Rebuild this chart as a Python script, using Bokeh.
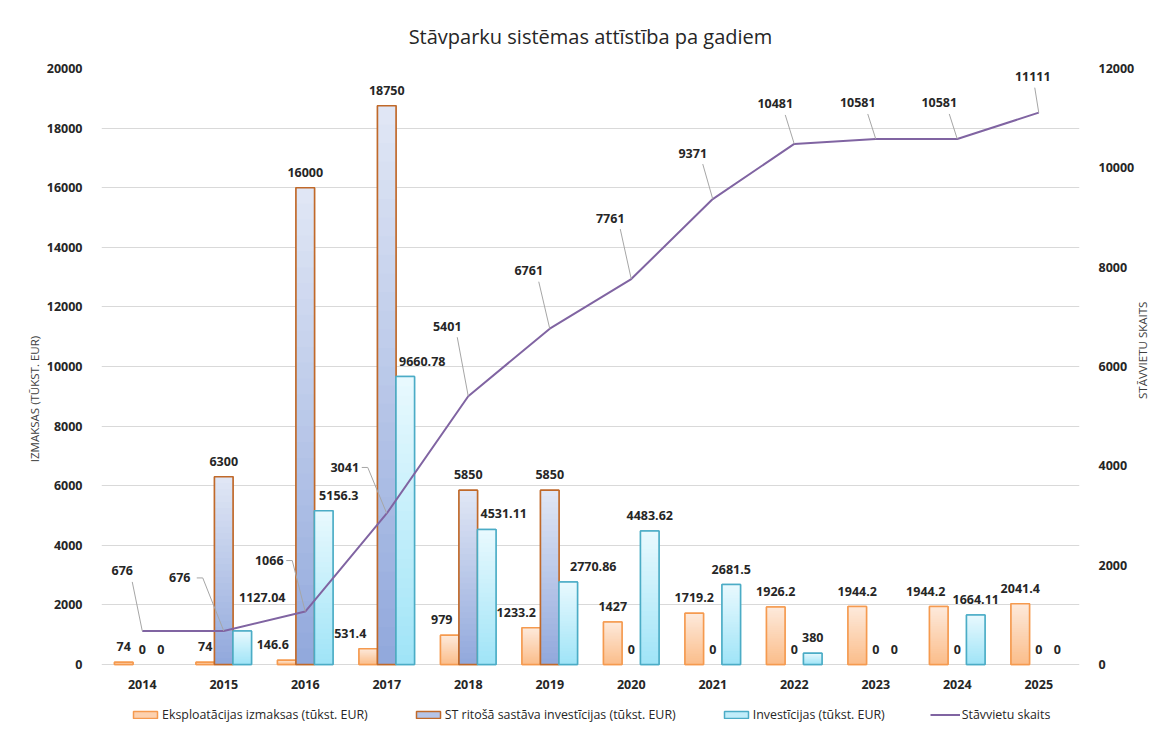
import math
from bokeh.plotting import figure
from bokeh.models import (Range1d, LinearAxis, FixedTicker, ColumnDataSource,
                          Legend, LegendItem)
from bokeh.embed import file_html
from bokeh.resources import INLINE
from bokeh.core.properties import value

# ---------------- data ----------------
years = [2014, 2015, 2016, 2017, 2018, 2019, 2020, 2021, 2022, 2023, 2024, 2025]
ekspl = [74, 74, 146.6, 531.4, 979, 1233.2, 1427, 1719.2, 1926.2, 1944.2, 1944.2, 2041.4]
st_inv = [0, 6300, 16000, 18750, 5850, 5850, 0, 0, 0, 0, 0, 0]
invest = [0, 1127.04, 5156.3, 9660.78, 4531.11, 2770.86, 4483.62, 2681.5, 380, 0, 1664.11, 0]
stavvietas = [676, 676, 1066, 3041, 5401, 6761, 7761, 9371, 10481, 10581, 10581, 11111]

title_text = "Stāvparku sistēmas attīstība pa gadiem"
left_axis_label = "IZMAKSAS (TŪKST. EUR)"
right_axis_label = "STĀVVIETU SKAITS"
series_names = ["Eksploatācijas izmaksas (tūkst. EUR)",
                "ST ritošā sastāva investīcijas (tūkst. EUR)",
                "Investīcijas (tūkst. EUR)",
                "Stāvvietu skaits"]
left_ticks = [0, 2000, 4000, 6000, 8000, 10000, 12000, 14000, 16000, 18000, 20000]
right_ticks = [0, 2000, 4000, 6000, 8000, 10000, 12000]

# ---------------- style / layout ----------------
FONT = "Open Sans"
W, H = 1160, 733
PLOT_L, PLOT_R, PLOT_T, ZERO_Y, FRAME_B = 101, 1079, 68, 664, 729
BL, BR, BT, BB = PLOT_L, W - PLOT_R, PLOT_T, H - FRAME_B
FW = PLOT_R - PLOT_L
LMAX, RMAX = 20000, 12000
PX_X = FW / 12.0                       # px per category
PX_L = (ZERO_Y - PLOT_T) / LMAX        # px per left unit
PX_R = (ZERO_Y - PLOT_T) / RMAX        # px per right unit
LMIN = -(FRAME_B - ZERO_Y) / PX_L
RMIN = -(FRAME_B - ZERO_Y) / PX_R
BAR_W_PX = 18.5
BW = BAR_W_PX / PX_X
LABEL_UP = 15.5             # px from bar top to label centre
YEAR_DOWN = 20              # px below zero line for year labels
TXT = "#262626"
FS = "12.5px"

# label nudges (px)
ekspl_dx = [0, 0, -14, -18, -8, -15, 0, 0, 0, 0, -13, 0]
inv_dx = [0, 20, 15, 17, 17, 25, 0, 0, 0, 0, 0, 0]
inv_dy = [0, -18, 0, 0, 0, 0, 0, 0, 0, 0, 0, 0]
line_dx = [-20, -44, -36, -42, -21, -21, -21, -20, -19, -18, -18, -6]
line_dy = [-60, -53, -51, -46, -70, -58, -61, -46, -40, -36, -36, -36]

series_style = [
    # (top colour, bottom colour, border colour, offset)
    ("#fdeadc", "#fbbd8a", "#f59a4f", -1),
    ("#e1e7f5", "#91a8dc", "#c0692a", 0),
    ("#e9f9fe", "#9fe4f7", "#4bacc6", 1),
]
LINE_COLOR = "#8064a2"

p = figure(width=W, height=H, output_backend="svg", toolbar_location=None,
           x_range=Range1d(-0.5, 11.5), y_range=Range1d(LMIN, LMAX),
           min_border_left=BL, min_border_right=BR,
           min_border_top=BT, min_border_bottom=BB)
p.extra_y_ranges = {"right": Range1d(RMIN, RMAX)}
p.outline_line_color = None
p.background_fill_color = "white"
p.border_fill_color = "white"

# title
p.title.text = title_text
p.title.align = "center"
p.title.text_font = FONT
p.title.text_font_size = "20px"
p.title.text_font_style = "normal"
p.title.text_color = "#262626"
p.title.standoff = 33
p.title.vertical_align = "top"

# axes
def style_axis(ax):
    ax.axis_line_color = None
    ax.major_tick_line_color = None
    ax.minor_tick_line_color = None
    ax.major_label_text_font = FONT
    ax.major_label_text_font_size = FS
    ax.major_label_text_font_style = "bold"
    ax.major_label_text_color = TXT
    ax.axis_label_text_font = FONT
    ax.axis_label_text_font_size = "11.5px"
    ax.axis_label_text_font_style = "normal"
    ax.axis_label_text_color = "#404040"

p.xaxis.visible = False

ya = p.yaxis[0]
ya.ticker = FixedTicker(ticks=left_ticks)
ya.axis_label = left_axis_label
style_axis(ya)
ya.major_label_standoff = 13
ya.axis_label_standoff = 2

ra = LinearAxis(y_range_name="right", ticker=FixedTicker(ticks=right_ticks),
                axis_label=right_axis_label)
style_axis(ra)
ra.major_label_standoff = 13
ra.axis_label_standoff = 5
if "axis_label_orientation" in ra.properties():
    ra.axis_label_orientation = math.pi / 2   # read bottom-to-top
p.add_layout(ra, "right")

p.xgrid.grid_line_color = None
p.ygrid.ticker = FixedTicker(ticks=left_ticks)
p.ygrid.grid_line_color = "#d9d9d9"
p.ygrid.grid_line_width = 1


def mix(c1, c2, t):
    a = [int(c1[i:i + 2], 16) for i in (1, 3, 5)]
    b = [int(c2[i:i + 2], 16) for i in (1, 3, 5)]
    return "#%02x%02x%02x" % tuple(round(a[k] + (b[k] - a[k]) * t) for k in range(3))


N = 30
legend_renderers = []
all_series = [ekspl, st_inv, invest]
for vals, (ctop, cbot, cline, off) in zip(all_series, series_style):
    xs = [i + off * BW for i, v in enumerate(vals) if v > 0]
    vs = [v for v in vals if v > 0]
    base = p.vbar(x=xs, top=vs, bottom=0, width=BW,
                  fill_color=mix(cbot, ctop, 0.45), line_color=cline, line_width=1.5)
    legend_renderers.append(base)
    sx, stop, scol = [], [], []
    for k in range(N - 1, -1, -1):
        frac = (k + 0.5) / N
        for x, v in zip(xs, vs):
            sx.append(x)
            stop.append(v * (k + 1) / N)
            scol.append(mix(cbot, ctop, frac))
    p.vbar(x=sx, top=stop, bottom=0, width=BW, fill_color=scol, line_color=None)
    p.vbar(x=xs, top=vs, bottom=0, width=BW, fill_color=None,
           line_color=cline, line_width=1.5)

# line
xi = list(range(len(years)))
line_r = p.line(x=xi, y=stavvietas, y_range_name="right",
                line_color=LINE_COLOR, line_width=2)
legend_renderers.append(line_r)

# year labels (category axis)
p.text(x=xi, y=[-YEAR_DOWN / PX_L] * len(years), text=[str(y) for y in years],
       text_align="center", text_baseline="middle", text_font=value(FONT),
       text_font_size=FS, text_font_style="bold", text_color=TXT)

# bar labels
lx, ly, lt = [], [], []
for vals, (_, _, _, off), dxs, dys in zip(all_series, series_style,
                                          [ekspl_dx, [0] * 12, inv_dx],
                                          [[0] * 12, [0] * 12, inv_dy]):
    for i, v in enumerate(vals):
        lx.append(i + off * BW + dxs[i] / PX_X)
        ly.append(v + (LABEL_UP - dys[i]) / PX_L)
        lt.append(("%g" % v))
src_lab = ColumnDataSource(dict(x=lx, y=ly, t=lt))
p.text(x="x", y="y", text="t", source=src_lab, text_align="center",
       text_baseline="middle", text_font=value(FONT), text_font_size=FS,
       text_font_style="bold", text_color=TXT)

# line labels + leaders
llx, lly, llt, lxs, lys = [], [], [], [], []
for i, v in enumerate(stavvietas):
    dx, dy = line_dx[i], line_dy[i]
    llx.append(i + dx / PX_X)
    lly.append(v - dy / PX_R)
    llt.append(str(v))
    if dx < -30:
        half = 17
        xs_px = [dx + half, dx + half + 6, 0]
        ys_px = [dy, dy, 0]
    else:
        sx_px = min(dx + 10, -4)
        xs_px = [sx_px, 0]
        ys_px = [dy + 11, 0]
    lxs.append([i + a / PX_X for a in xs_px])
    lys.append([v - b / PX_R for b in ys_px])
p.multi_line(xs=lxs, ys=lys, y_range_name="right", line_color="#a6a6a6", line_width=1)
p.text(x=llx, y=lly, text=llt, y_range_name="right", text_align="center",
       text_baseline="middle", text_font=value(FONT), text_font_size=FS,
       text_font_style="bold", text_color=TXT)

# legend (inside the extended frame, below the year labels)
legend = Legend(items=[LegendItem(label=n, renderers=[r])
                       for n, r in zip(series_names, legend_renderers)],
                orientation="horizontal", location=(29, 6))
legend.label_text_font = FONT
legend.label_text_font_size = "12.4px"
legend.label_text_color = TXT
legend.glyph_width = 30
legend.glyph_height = 9
legend.label_standoff = 2
legend.spacing = 45
legend.padding = 0
legend.margin = 0
legend.border_line_color = None
legend.background_fill_alpha = 0
p.add_layout(legend, "center")

open("out.html", "w").write(file_html(p, INLINE))
